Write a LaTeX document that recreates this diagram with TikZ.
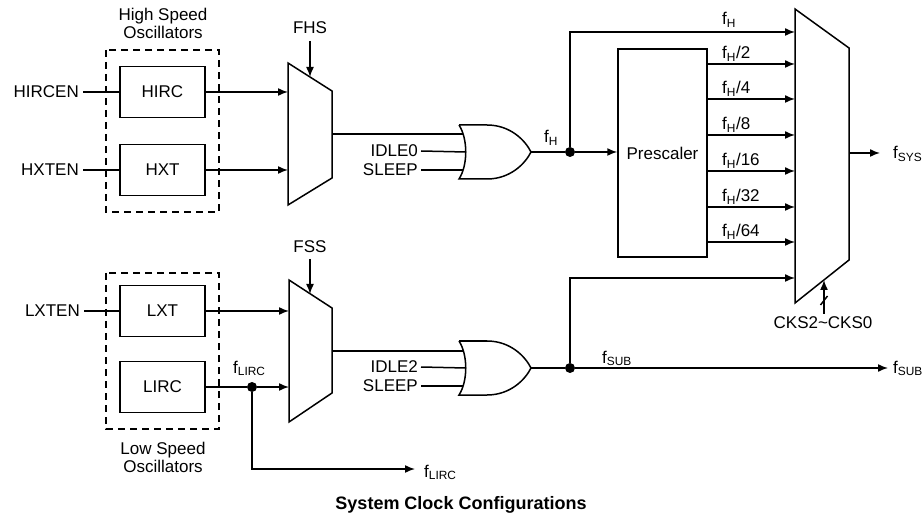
\documentclass[tikz,border=0pt]{standalone}
\usepackage{fontspec}
\setmainfont{Liberation Sans}
\usetikzlibrary{arrows.meta}
\begin{document}
\begin{tikzpicture}[x=1pt,y=-1pt,
  wire/.style={line width=1.5pt},
  arr/.style={wire,-{Latex[length=10pt,width=8pt]}},
  box/.style={draw,line width=1.5pt,minimum width=85pt,minimum height=51pt,inner sep=0pt,font=\fontsize{17}{19}\selectfont},
  lbl/.style={inner sep=0pt,font=\fontsize{17}{19}\selectfont},
  inlbl/.style={lbl,inner xsep=3pt,anchor=east},
  dot/.style={circle,fill,inner sep=0pt,minimum size=10pt},
  grp/.style={draw,line width=1.5pt,dash pattern=on 7pt off 5pt}]
\useasboundingbox (0,0) rectangle (923,518);

% ---------- high speed group ----------
\draw[grp] (106,50) rectangle (219,212);
\node[lbl,align=center] (hsl) at (163,23) {High Speed\\[-1pt]Oscillators};
\node[box] (hirc) at (162.5,92) {HIRC};
\node[box] (hxt) at (162.5,170) {HXT};
\node[inlbl,inner xsep=4pt] (hircen) at (83,92) {HIRCEN};
\node[inlbl,inner xsep=4pt] (hxten) at (83,170) {HXTEN};
\draw[wire] (hircen.east) -- (hirc.west);
\draw[wire] (hxten.east) -- (hxt.west);

% mux 1
\draw[wire] (288,63) -- (332,91) -- (332,178) -- (288,205) -- cycle;
\coordinate (m1a) at (288,92);
\coordinate (m1b) at (288,170);
\coordinate (m1s) at (310,77);
\coordinate (m1o) at (332,134);
\draw[arr] (hirc.east) -- (m1a);
\draw[arr] (hxt.east) -- (m1b);
\node[lbl] (fhs) at (310,28) {FHS};
\coordinate (fhsb) at (310,41);
\draw[arr] (fhsb) -- (m1s);

% OR gate 1
\draw[wire] (459,125) -- (487,125) .. controls (510,125) and (525,140) .. (531,152)
  .. controls (525,164) and (510,179) .. (487,179) -- (459,179)
  .. controls (468,165) and (468,139) .. (459,125);
\coordinate (g1a) at (463.3,134);
\coordinate (g1b) at (465.8,152);
\coordinate (g1c) at (463.3,170);
\coordinate (g1o) at (531,152);
\draw[wire] (m1o) -- (g1a);
\node[inlbl] (idle0) at (421,151) {IDLE0};
\node[inlbl] (sleep1) at (421,170) {SLEEP};
\draw[wire] (idle0.east) -- (g1b);
\draw[wire] (sleep1.east) -- (g1c);
\node[lbl,anchor=base west] (fh1) at (544,143) {f\textsubscript{H}};

% dot and prescaler
\node[dot] (d1) at (570,152) {};
\draw[wire] (g1o) -- (d1);
\node[draw,line width=1.5pt,minimum width=89pt,minimum height=208pt,inner sep=0pt,font=\fontsize{17}{19}\selectfont] (pre) at (662.5,153) {Prescaler};
\draw[arr] (d1) -- (d1 -| pre.west);

% mux 2
\draw[wire] (795,9) -- (849,48) -- (849,260) -- (795,303) -- cycle;
\coordinate (m2a) at (795,32);
\coordinate (m2h) at (795,278);
\coordinate (m2o) at (849,153);
\coordinate (m2s) at (824,280);
\draw[arr] (d1) |- (m2a);
\node[lbl,anchor=base west] (lfh) at (722,25) {f\textsubscript{H}};
\foreach \y/\t in {64/2,99/4,135/8,171/16,207/32,242/64}{
  \coordinate (p\t) at (707,\y);
  \coordinate (q\t) at (795,\y);
  \draw[arr] (p\t) -- (q\t);
  \node[lbl,anchor=base west] (l\t) at (722,\y-5) {f\textsubscript{H}/\t};
}
\coordinate (fsysend) at (880,153);
\draw[arr] (m2o) -- (fsysend);
\node[lbl,anchor=base west] (fsys) at (893,159) {f\textsubscript{SYS}};
\node[lbl] (cks) at (823,323) {CKS2\textasciitilde CKS0};
\coordinate (cksb) at (824,314);
\draw[arr] (cksb) -- (m2s);
\draw[wire] (820.5,305) -- (827.5,296);

% ---------- low speed group ----------
\draw[grp] (106,273) rectangle (219,429);
\node[lbl,align=center] (lsl) at (163,457) {Low Speed\\[-1pt]Oscillators};
\node[box] (lxt) at (162.5,311) {LXT};
\node[box] (lirc) at (162.5,387) {LIRC};
\node[inlbl,inner xsep=4pt] (lxten) at (84,311) {LXTEN};
\draw[wire] (lxten.east) -- (lxt.west);

% mux 3
\draw[wire] (289,280) -- (332,308) -- (332,393) -- (289,422) -- cycle;
\coordinate (m3a) at (289,311);
\coordinate (m3b) at (289,387);
\coordinate (m3s) at (310,294);
\coordinate (m3o) at (332,351);
\draw[arr] (lxt.east) -- (m3a);
\node[dot] (dl) at (252,387) {};
\draw[wire] (lirc.east) -- (dl);
\draw[arr] (dl) -- (m3b);
\node[lbl,anchor=base west] (flirc1) at (233,373) {f\textsubscript{LIRC}};
\coordinate (flircend) at (415,469);
\draw[arr] (dl) |- (flircend);
\node[lbl,anchor=base west] (flirc2) at (424,477) {f\textsubscript{LIRC}};
\node[lbl] (fss) at (310,247) {FSS};
\coordinate (fssb) at (310,259);
\draw[arr] (fssb) -- (m3s);

% OR gate 2
\draw[wire] (459,341) -- (487,341) .. controls (510,341) and (525,356) .. (531,368)
  .. controls (525,380) and (510,395) .. (487,395) -- (459,395)
  .. controls (468,381) and (468,355) .. (459,341);
\coordinate (g2a) at (463.3,351);
\coordinate (g2b) at (465.8,368);
\coordinate (g2c) at (463.3,386);
\coordinate (g2o) at (531,368);
\draw[wire] (m3o) -- (g2a);
\node[inlbl] (idle2) at (421,367) {IDLE2};
\node[inlbl] (sleep2) at (421,386) {SLEEP};
\draw[wire] (idle2.east) -- (g2b);
\draw[wire] (sleep2.east) -- (g2c);

\node[dot] (d2) at (570,368) {};
\draw[wire] (g2o) -- (d2);
\coordinate (fsubend) at (888,368);
\draw[arr] (d2) -- (fsubend);
\draw[arr] (d2) |- (m2h);
\node[lbl,anchor=base west] (fsub1) at (602,363) {f\textsubscript{SUB}};
\node[lbl,anchor=base west] (fsub2) at (893,373) {f\textsubscript{SUB}};

\node[lbl,font=\fontsize{18}{20}\selectfont\bfseries] (title) at (461,505) {System Clock Configurations};
\end{tikzpicture}
\end{document}
